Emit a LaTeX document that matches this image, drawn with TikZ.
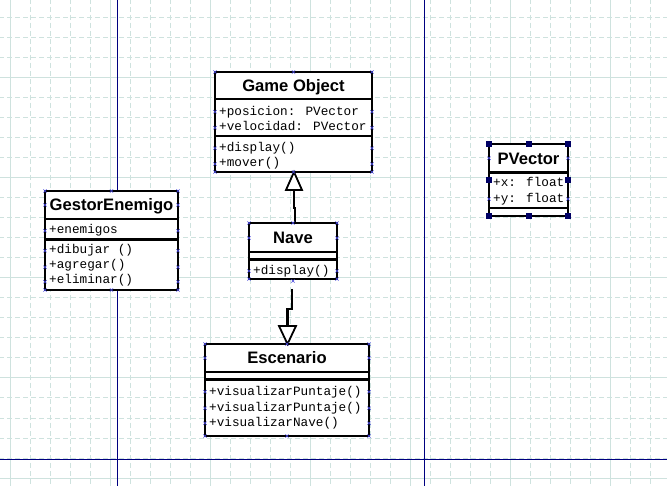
\documentclass[tikz,border=0pt]{standalone}
\usepackage{fontspec}
\newfontfamily\titlefont{Liberation Sans}
\newfontfamily\rowfont{Liberation Mono}
\usetikzlibrary{calc}
\definecolor{gridc}{RGB}{206,226,222}
\definecolor{navyline}{RGB}{0,0,128}
\definecolor{markc}{RGB}{70,70,220}
\definecolor{handlec}{RGB}{0,0,100}
\tikzset{
  gridline/.style={draw=gridc, line width=1pt},
  griddash/.style={draw=gridc, line width=1pt, dash pattern=on 5pt off 3pt, dash phase=1pt},
  guide/.style={draw=navyline, line width=1pt},
  umlbox/.style={draw=black, line width=2.4pt, fill=white, rectangle, inner sep=0pt, outer sep=0pt},
  sepline/.style={draw=black, line width=2.2pt},
  titletext/.style={font=\titlefont\bfseries\fontsize{16.6}{18}\selectfont, inner sep=0pt, text height=11.9pt, text depth=0pt, anchor=center},
  rowtext/.style={font=\rowfont\fontsize{12.7}{14}\selectfont, inner sep=0pt, anchor=base west},
  hm/.style={draw=markc, line width=0.6pt},
  conn/.style={draw=black, line width=2.2pt},
  inherit/.style={draw=black, fill=white, line width=1.8pt, line join=miter},
}
\newcommand{\hndl}[2]{\draw[hm] (#1,#2) ++(-1.6,-1.6) -- ++(3.2,3.2) ++(-3.2,0) -- ++(3.2,-3.2);}
\newcommand{\sqhndl}[2]{\fill[handlec] (#1,#2) ++(-3,-3) rectangle ++(6,6);}
\begin{document}
\begin{tikzpicture}[x=1pt,y=-1pt]
\useasboundingbox (0,0) rectangle (667,486);
\fill[white] (0,0) rectangle (667,486);
% grid
\foreach \gx in {10,30,...,650} {\draw[griddash] (\gx,0) -- (\gx,486);}
\foreach \gy in {18,38,...,478} {\draw[griddash] (0,\gy) -- (667,\gy);}
\foreach \gx in {10,110,...,610} {\draw[gridline] (\gx,0) -- (\gx,486);}
\foreach \gy in {78,178,...,478} {\draw[gridline] (0,\gy) -- (667,\gy);}
% guide lines
\draw[guide] (117,0) -- (117,486);
\draw[guide] (424,0) -- (424,486);
\draw[guide] (0,459) -- (667,459);

% Game Object
\node[umlbox, minimum width=157pt, minimum height=100pt] (go) at (293.5,122) {};
\draw[sepline] (215,99) -- (372,99);
\draw[sepline] (215,136) -- (372,136);
\node[titletext] (gotitle) at (293.5,85.5) {Game Object};
\node[rowtext] (goa1) at (219,115.8) {+posicion: PVector};
\node[rowtext] (goa2) at (219,130.8) {+velocidad: PVector};
\node[rowtext] (gom1) at (219,151.8) {+display()};
\node[rowtext] (gom2) at (219,166.8) {+mover()};

% GestorEnemigo
\node[umlbox, minimum width=133pt, minimum height=99pt] (ge) at (111.5,240.5) {};
\draw[sepline] (45,219) -- (178,219);
\draw[sepline] (45,239.5) -- (178,239.5);
\node[titletext] (getitle) at (111.5,205) {GestorEnemigo};
\node[rowtext] (gea1) at (49,234) {+enemigos};
\node[rowtext] (gem1) at (49,253.5) {+dibujar ()};
\node[rowtext] (gem2) at (49,268.5) {+agregar()};
\node[rowtext] (gem3) at (49,283.5) {+eliminar()};

% Nave
\node[umlbox, minimum width=88pt, minimum height=56pt] (nave) at (293,251) {};
\draw[sepline] (249,252) -- (337,252);
\draw[sepline] (249,259.5) -- (337,259.5);
\node[titletext] (navetitle) at (293,237.8) {Nave};
\node[rowtext] (navem1) at (253,274.5) {+display()};

% Escenario
\node[umlbox, minimum width=164pt, minimum height=92pt] (esc) at (287,390) {};
\draw[sepline] (205,372) -- (369,372);
\draw[sepline] (205,379.5) -- (369,379.5);
\node[titletext] (esctitle) at (287,358) {Escenario};
\node[rowtext] (escm1) at (209,395.3) {+visualizarPuntaje()};
\node[rowtext] (escm2) at (209,411) {+visualizarPuntaje()};
\node[rowtext] (escm3) at (209,426.5) {+visualizarNave()};

% PVector
\node[umlbox, minimum width=79pt, minimum height=72pt] (pv) at (528.5,180) {};
\draw[sepline] (489,172.5) -- (568,172.5);
\draw[sepline] (489,208.3) -- (568,208.3);
\node[titletext] (pvtitle) at (528.5,158.3) {PVector};
\node[rowtext] (pva1) at (493,186.8) {+x: float};
\node[rowtext] (pva2) at (493,202.5) {+y: float};

% connectors
\coordinate (j1) at (295,208);
\coordinate (t1) at ($(go.south)+(0.5,18)$);
\draw[conn] (nave.north -| j1) -- (j1) -| (t1);
\draw[inherit] ($(go.south)+(0.5,0)$) -- ++(-8,18) -- ++(16,0) -- cycle;
\coordinate (n2s) at (292.3,289);
\coordinate (j2) at (292.3,309);
\coordinate (t2) at ($(esc.north)+(0.5,-18)$);
\draw[conn] (n2s) -- (j2) -| (t2);
\draw[inherit] ($(esc.north)+(0.5,0)$) -- ++(-8.5,-18) -- ++(17,0) -- cycle;

% selection marks
\foreach \mx/\my in {215/72,293.5/72,372/72,215/172,293.5/172,372/172,
  215/111.7,372/111.7,215/127.7,372/127.7,215/148.3,372/148.3,215/164,372/164,
  45/191,111.5/191,178/191,45/290,111.5/290,178/290,
  45/205,178/205,45/230.7,178/230.7,45/250.7,178/250.7,45/267.3,178/267.3,45/281.7,178/281.7,
  249/223,293/223,337/223,249/279,293/281,337/279,249/238,337/238,249/271,337/271,
  205/344,287/344,369/344,205/436,287/436,369/436,
  205/358,369/358,205/391.7,369/391.7,205/408.3,369/408.3,205/423.3,369/423.3,
  489/158.3,568/158.3,489/199,568/199} {\hndl{\mx}{\my}}
\foreach \sx/\sy in {489/144,528.5/144,568/144,489/180,568/180,489/216,528.5/216,568/216} {\sqhndl{\sx}{\sy}}
\end{tikzpicture}
\end{document}
